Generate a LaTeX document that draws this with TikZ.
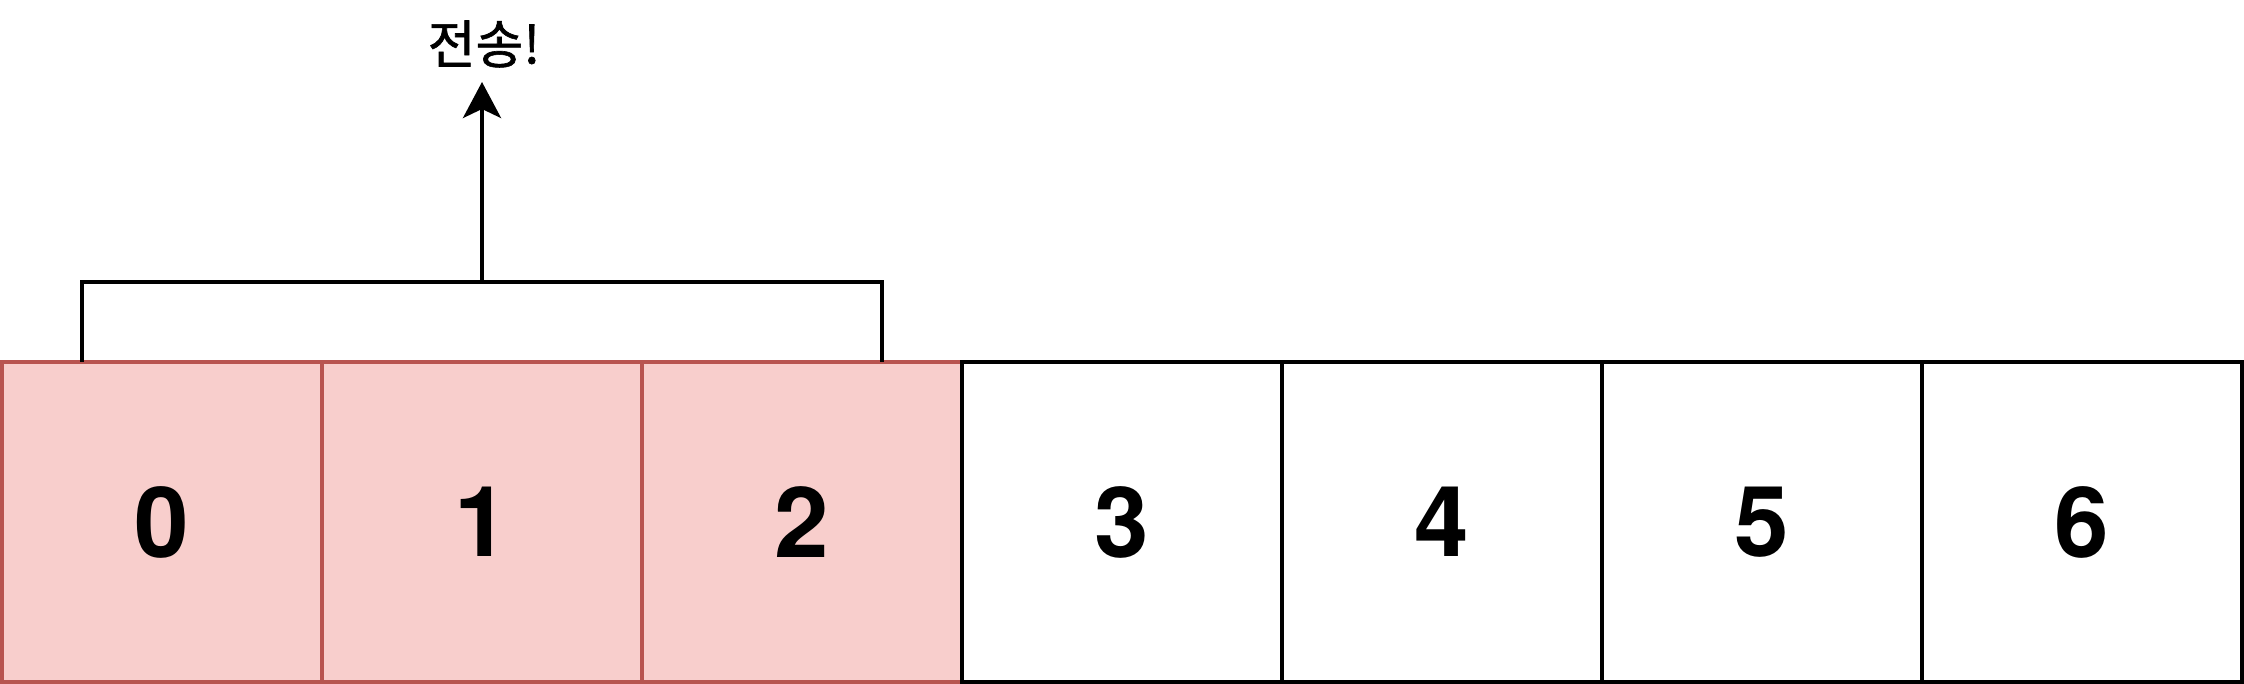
\documentclass[tikz,border=0pt]{standalone}
\usepackage{fontspec}
\setmainfont{TeX Gyre Heros}
\newfontfamily\krfont[FakeBold=1.2]{Noto Sans CJK KR}
\usetikzlibrary{arrows.meta}
\definecolor{redfill}{HTML}{F8CECC}
\definecolor{redline}{HTML}{B85450}
\tikzset{
  cell/.style={draw, line width=4pt, minimum width=320pt, minimum height=320pt, inner sep=0pt,
    font=\fontsize{98}{98}\selectfont\bfseries},
  sentcell/.style={cell, fill=redfill, draw=redline},
  freecell/.style={cell, fill=white, draw=black},
  link/.style={line width=4pt, draw=black},
}
\begin{document}
\begin{tikzpicture}[x=1pt,y=-1pt]
\useasboundingbox (0,0) rectangle (2244,684);
\fill[white] (0,0) rectangle (2244,684);
\node[sentcell] (b0) at (162,522) {0};
\node[sentcell] (b1) at (482,522) {1};
\node[sentcell] (b2) at (802,522) {2};
\node[freecell] (b3) at (1122,522) {3};
\node[freecell] (b4) at (1442,522) {4};
\node[freecell] (b5) at (1762,522) {5};
\node[freecell] (b6) at (2082,522) {6};
\coordinate (bl) at (82,362);
\coordinate (br) at (882,362);
\coordinate (bt) at (482,282);
\coordinate (tip) at (482,82);
\draw[link] (bl) |- (bt) -| (br);
\draw[link, -{Stealth[length=36pt, width=38pt, inset=9pt]}] (bt) -- (tip);
\node[font=\krfont\fontsize{52}{52}\selectfont, inner sep=0pt] (t) at (484,44) {전송!};
\end{tikzpicture}
\end{document}
